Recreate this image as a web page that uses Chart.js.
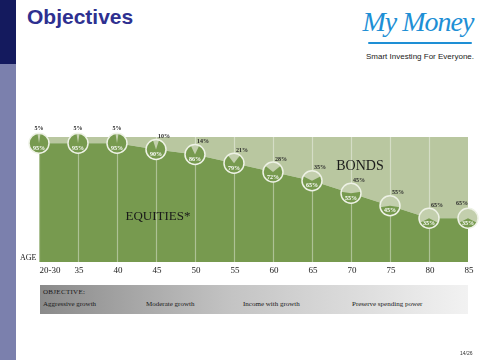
<!DOCTYPE html>
<html>
<head>
<meta charset="utf-8">
<script src="https://cdn.jsdelivr.net/npm/chart.js@4.4.1/dist/chart.umd.min.js"></script>
<style>
  html, body { margin: 0; padding: 0; background: #ffffff; }
  #page { position: relative; width: 480px; height: 360px; overflow: hidden; background: #fff; }
  #barTop { position: absolute; left: 0; top: 0; width: 16px; height: 64px; background: #141a5e; }
  #barBottom { position: absolute; left: 0; top: 64px; width: 16px; height: 296px; background: #7b80ad; }
  #title { position: absolute; left: 27px; top: 5px; font: bold 21px "Liberation Sans", Arial, sans-serif; color: #2e3090; }
  #logo { position: absolute; left: 358px; top: 6px; width: 120px; text-align: center; white-space: nowrap;
          font: italic 28px "Liberation Serif", serif; color: #1e8fd5; letter-spacing: -1px; }
  #swoosh { position: absolute; left: 368px; top: 42px; width: 104px; height: 2px; background: #1e8fd5; border-radius: 2px; }
  #tag { position: absolute; left: 364px; top: 52px; width: 112px; text-align: center; white-space: nowrap;
         font: 8px "Liberation Sans Narrow", "Liberation Sans", Arial, sans-serif; color: #222; }
  #wrap { position: absolute; left: 0; top: 0; width: 480px; height: 360px; }
  #obj { position: absolute; left: 40px; top: 285px; width: 428px; height: 29px;
         background: linear-gradient(to right, #8a8a8a 0%, #c4c4c4 45%, #f2f2f2 100%); }
  .ot { position: absolute; font: 7px "Liberation Serif", "DejaVu Serif", serif; color: #1a1a1a; white-space: nowrap; }
  #page-num { position: absolute; left: 460px; top: 350px; font: 5px "Liberation Sans", Arial, sans-serif; color: #333; }
</style>
</head>
<body>
<div id="page">
  <div id="barTop"></div>
  <div id="barBottom"></div>
  <div id="title">Objectives</div>
  <div id="logo">My Money</div>
  <div id="swoosh"></div>
  <div id="tag">Smart Investing For Everyone.</div>
  <div id="obj">
    <div class="ot" style="left:3px; top:3px; letter-spacing:0.3px;">OBJECTIVE:</div>
    <div class="ot" style="left:3px; top:15px;">Aggressive growth</div>
    <div class="ot" style="left:106px; top:15px;">Moderate growth</div>
    <div class="ot" style="left:203px; top:15px;">Income with growth</div>
    <div class="ot" style="left:312px; top:15px;">Preserve spending power</div>
  </div>
  <div id="wrap"><canvas id="c" width="480" height="360"></canvas></div>
  <div id="page-num">14/26</div>
</div>
<script>
const ages = ['20-30', '35', '40', '45', '50', '55', '60', '65', '70', '75', '80', '85'];
const equities = [95, 95, 95, 90, 86, 79, 72, 65, 55, 45, 35, 35];
const bonds = [5, 5, 5, 10, 14, 21, 28, 35, 45, 55, 65, 65];

const DARK = '#779a4f';
const LIGHT = '#b9c7a0';

const overlay = {
  id: 'overlay',
  afterDraw(chart) {
    const ctx = chart.ctx;
    const xs = chart.scales.x, ys = chart.scales.y;
    const area = chart.chartArea;
    ctx.save();
    // vertical age lines over the areas
    ctx.strokeStyle = 'rgba(255,255,255,0.4)';
    ctx.lineWidth = 1.2;
    ages.forEach((a, i) => {
      if (i === ages.length - 1) return;
      const px = Math.round(xs.getPixelForValue(i)) + 0.5;
      ctx.beginPath();
      ctx.moveTo(px, area.top);
      ctx.lineTo(px, area.bottom);
      ctx.stroke();
    });
    // area labels
    ctx.fillStyle = '#1a1a1a';
    ctx.textAlign = 'center';
    ctx.textBaseline = 'middle';
    ctx.font = '14px "Liberation Serif", serif';
    ctx.fillText('BONDS', 360, 166);
    ctx.font = '13px "Liberation Serif", serif';
    ctx.fillText('EQUITIES*', 158, 217);
    // AGE label and ticks
    ctx.font = '8px "Liberation Serif", serif';
    ctx.textAlign = 'left';
    ctx.fillText('AGE', 20, area.bottom - 4);
    ctx.font = '9px "Liberation Serif", serif';
    ctx.textAlign = 'center';
    ages.forEach((a, i) => {
      const px = xs.getPixelForValue(i) + (i === 0 ? 11 : 1);
      ctx.fillText(a, px, area.bottom + 9);
    });
    // pies
    const r = 10;
    ages.forEach((a, i) => {
      const cx = xs.getPixelForValue(i);
      const cy = ys.getPixelForValue(equities[i]);
      ctx.beginPath();
      ctx.arc(cx, cy, r, 0, Math.PI * 2);
      ctx.fillStyle = DARK;
      ctx.fill();
      const th = bonds[i] / 100 * Math.PI * 2;
      ctx.beginPath();
      ctx.moveTo(cx, cy);
      ctx.arc(cx, cy, r, -Math.PI / 2 - th / 2, -Math.PI / 2 + th / 2);
      ctx.closePath();
      ctx.fillStyle = '#c3cfad';
      ctx.fill();
      ctx.beginPath();
      ctx.arc(cx, cy, r, 0, Math.PI * 2);
      ctx.lineWidth = 1.5;
      ctx.strokeStyle = '#eef2e6';
      ctx.stroke();
      // equity label
      ctx.fillStyle = '#ffffff';
      ctx.font = 'bold 6px "Liberation Serif", serif';
      ctx.textAlign = 'center';
      ctx.fillText(equities[i] + '%', cx, cy + 5);
      // bond label
      let dx = 8, dy = -13;
      if (i < 3) { dx = 0; dy = -15; }
      if (i === ages.length - 1) { dx = -6; dy = -15; }
      ctx.fillStyle = '#2a2a2a';
      ctx.font = 'bold 6px "Liberation Serif", serif';
      ctx.fillText(bonds[i] + '%', cx + dx, cy + dy);
    });
    ctx.restore();
  }
};

new Chart(document.getElementById('c'), {
  type: 'line',
  data: {
    labels: ages,
    datasets: [
      { data: equities, fill: 'origin', backgroundColor: DARK, borderWidth: 0, pointRadius: 0, tension: 0 },
      { data: equities.map((e, i) => e + bonds[i]), fill: '-1', backgroundColor: LIGHT, borderWidth: 0, pointRadius: 0, tension: 0 }
    ]
  },
  options: {
    responsive: false,
    animation: false,
    devicePixelRatio: 1,
    layout: { padding: { left: 39, right: 12, top: 137, bottom: 98 } },
    plugins: { legend: { display: false }, tooltip: { enabled: false } },
    scales: {
      x: { display: false, offset: false },
      y: { display: false, min: 0, max: 100 }
    }
  },
  plugins: [overlay]
});
</script>
</body>
</html>
